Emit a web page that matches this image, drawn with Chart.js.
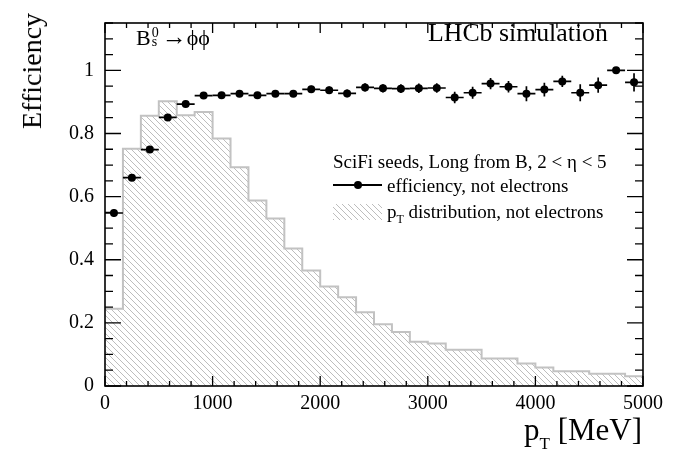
<!DOCTYPE html>
<html><head><meta charset="utf-8">
<script src="https://cdn.jsdelivr.net/npm/chart.js@4.4.1/dist/chart.umd.min.js"></script>
<style>
html,body{margin:0;padding:0;background:#fff;}
#wrap{position:relative;width:679px;height:454px;font-family:"Liberation Serif","Times New Roman",serif;color:#000;overflow:hidden;}
canvas{position:absolute;left:0;top:0;}
.t{position:absolute;white-space:nowrap;line-height:1;}
.stack{position:relative;display:inline-block;width:11px;height:1px;}
.stack span{position:absolute;left:1px;font-size:14px;line-height:14px;}
</style></head><body>
<div id="wrap">
<canvas id="c" width="679" height="454"></canvas>
<div class="t" style="font-size:28px;left:32px;top:71px;transform:translate(-50%,-50%) rotate(-90deg);">Efficiency</div>
<div class="t" style="font-size:31px;right:37px;top:414px;">p<span style="font-size:17px;position:relative;top:9px;">T</span> [MeV]</div>
<div class="t" style="font-size:22px;left:136px;top:24px;">B<span class="stack"><span style="top:-18px;">0</span><span style="top:-9px;">s</span></span><span style="font-size:25px;">→</span>ϕϕ</div>
<div class="t" style="font-size:25.8px;left:428px;top:20.3px;">LHCb simulation</div>
<div class="t" style="font-size:19px;left:333px;top:152px;">SciFi seeds, Long from B, 2 &lt; η &lt; 5</div>
<div class="t" style="font-size:19px;left:387px;top:176px;">efficiency, not electrons</div>
<div class="t" style="font-size:19px;left:387px;top:202px;">p<span style="font-size:12px;position:relative;top:5px;">T</span> distribution, not electrons</div>
</div>
<script>
// ---- data ----
const binEdges = [0,166.7,333.3,500,666.7,833.3,1000,1166.7,1333.3,1500,1666.7,1833.3,2000,2166.7,2333.3,2500,2666.7,2833.3,3000,3166.7,3333.3,3500,3666.7,3833.3,4000,4166.7,4333.3,4500,4666.7,4833.3,5000];
const efficiency = [0.548,0.660,0.749,0.851,0.893,0.920,0.921,0.926,0.921,0.926,0.926,0.940,0.937,0.927,0.946,0.943,0.942,0.943,0.944,0.914,0.929,0.958,0.948,0.926,0.939,0.965,0.929,0.953,1.000,0.962];
const efficiencyErr = [0.012,0.006,0.006,0.006,0.006,0.006,0.007,0.007,0.008,0.009,0.010,0.011,0.012,0.012,0.013,0.013,0.014,0.015,0.015,0.018,0.019,0.018,0.018,0.024,0.022,0.018,0.027,0.024,0.010,0.029];
const ptDistribution = [0.245,0.752,0.856,0.902,0.858,0.868,0.784,0.693,0.588,0.531,0.436,0.366,0.315,0.281,0.234,0.196,0.171,0.140,0.135,0.115,0.115,0.087,0.087,0.071,0.059,0.047,0.047,0.039,0.039,0.031];
const xTickValues = [0,1000,2000,3000,4000,5000];
const xTickLabels = ["0","1000","2000","3000","4000","5000"];
const yTickValues = [0,0.2,0.4,0.6,0.8,1];
const yTickLabels = ["0","0.2","0.4","0.6","0.8","1"];

const FONT = '"Liberation Serif","Times New Roman",serif';

// hatch pattern
function makeHatch(color){
  const t=document.createElement('canvas'); t.width=6; t.height=6;
  const g=t.getContext('2d'); g.strokeStyle=color; g.lineWidth=1;
  g.beginPath(); for(const o of [-6,0,6]){ g.moveTo(o,0); g.lineTo(o+6,6);} g.stroke();
  return document.createElement('canvas').getContext('2d').createPattern(t,'repeat');
}
const hatch = makeHatch('#bdbdbd');

const effPoints = efficiency.map((v,i)=>({x:(binEdges[i]+binEdges[i+1])/2, y:v}));
const histPoints = binEdges.map((e,i)=>({x:e, y:ptDistribution[Math.min(i,ptDistribution.length-1)]}));

const errorBars = {
  id:'errorBars',
  afterDatasetsDraw(chart){
    const {ctx, scales:{x,y}} = chart;
    ctx.save(); ctx.strokeStyle='#000'; ctx.lineWidth=1.7;
    efficiency.forEach((v,i)=>{
      const py=y.getPixelForValue(v);
      const x0=x.getPixelForValue(binEdges[i]), x1=x.getPixelForValue(binEdges[i+1]);
      const px=x.getPixelForValue((binEdges[i]+binEdges[i+1])/2);
      ctx.beginPath();
      ctx.moveTo(x0,py); ctx.lineTo(x1,py);
      ctx.moveTo(px,y.getPixelForValue(Math.min(v+efficiencyErr[i],1))); ctx.lineTo(px,y.getPixelForValue(v-efficiencyErr[i]));
      ctx.stroke();
    });
    ctx.restore();
  }
};

const frame = {
  id:'frame',
  afterDraw(chart){
    const {ctx, chartArea:a, scales:{x,y}} = chart;
    ctx.save();
    ctx.strokeStyle='#000'; ctx.lineWidth=1.6;
    ctx.strokeRect(a.left,a.top,a.right-a.left,a.bottom-a.top);
    ctx.lineWidth=1.3;
    ctx.beginPath();
    for(let k=0;k<=23;k++){
      const py=y.getPixelForValue(k*0.05); const L=(k%4===0)?16:8;
      ctx.moveTo(a.left,py); ctx.lineTo(a.left+L,py);
      ctx.moveTo(a.right,py); ctx.lineTo(a.right-L,py);
    }
    for(let k=0;k<=25;k++){
      const px=x.getPixelForValue(k*200); const L=(k%5===0)?10:5;
      ctx.moveTo(px,a.bottom); ctx.lineTo(px,a.bottom-L);
      ctx.moveTo(px,a.top); ctx.lineTo(px,a.top+L);
    }
    ctx.stroke();
    // legend symbols
    ctx.fillStyle=hatch; ctx.fillRect(333,204,49,16);
    ctx.strokeStyle='#000'; ctx.lineWidth=1.8;
    ctx.beginPath(); ctx.moveTo(333,185); ctx.lineTo(382,185); ctx.stroke();
    ctx.fillStyle='#000'; ctx.beginPath(); ctx.arc(358,185,4,0,Math.PI*2); ctx.fill();
    ctx.restore();
  }
};

new Chart(document.getElementById('c'), {
  type:'scatter',
  data:{datasets:[
    {label:'efficiency, not electrons', data:effPoints, pointRadius:4, pointBackgroundColor:'#000', pointBorderWidth:0, showLine:false},
    {type:'line', label:'pT distribution, not electrons', data:histPoints, stepped:true, pointRadius:0, borderColor:'#c2c2c2', borderWidth:2, backgroundColor:hatch, fill:'origin', tension:0}
  ]},
  options:{
    responsive:false, animation:false, devicePixelRatio:1,
    layout:{padding:{left:0,top:9,right:36,bottom:0}},
    plugins:{legend:{display:false}, tooltip:{enabled:false}},
    scales:{
      x:{type:'linear', min:0, max:5000,
        afterBuildTicks:s=>{s.ticks=xTickValues.map(v=>({value:v}));},
        afterFit:s=>{s.height=68;},
        ticks:{callback:v=>xTickLabels[xTickValues.indexOf(v)], font:{family:FONT,size:20}, color:'#000', padding:6, autoSkip:false, maxRotation:0, minRotation:0},
        grid:{display:false, drawTicks:false}, border:{display:false}},
      y:{type:'linear', min:0, max:1.15,
        afterBuildTicks:s=>{s.ticks=yTickValues.map(v=>({value:v}));},
        afterFit:s=>{s.width=105;},
        ticks:{callback:v=>yTickLabels[yTickValues.indexOf(v)], font:{family:FONT,size:20}, color:'#000', padding:11},
        grid:{display:false, drawTicks:false}, border:{display:false}}
    }
  },
  plugins:[errorBars, frame]
});
</script>
</body></html>
